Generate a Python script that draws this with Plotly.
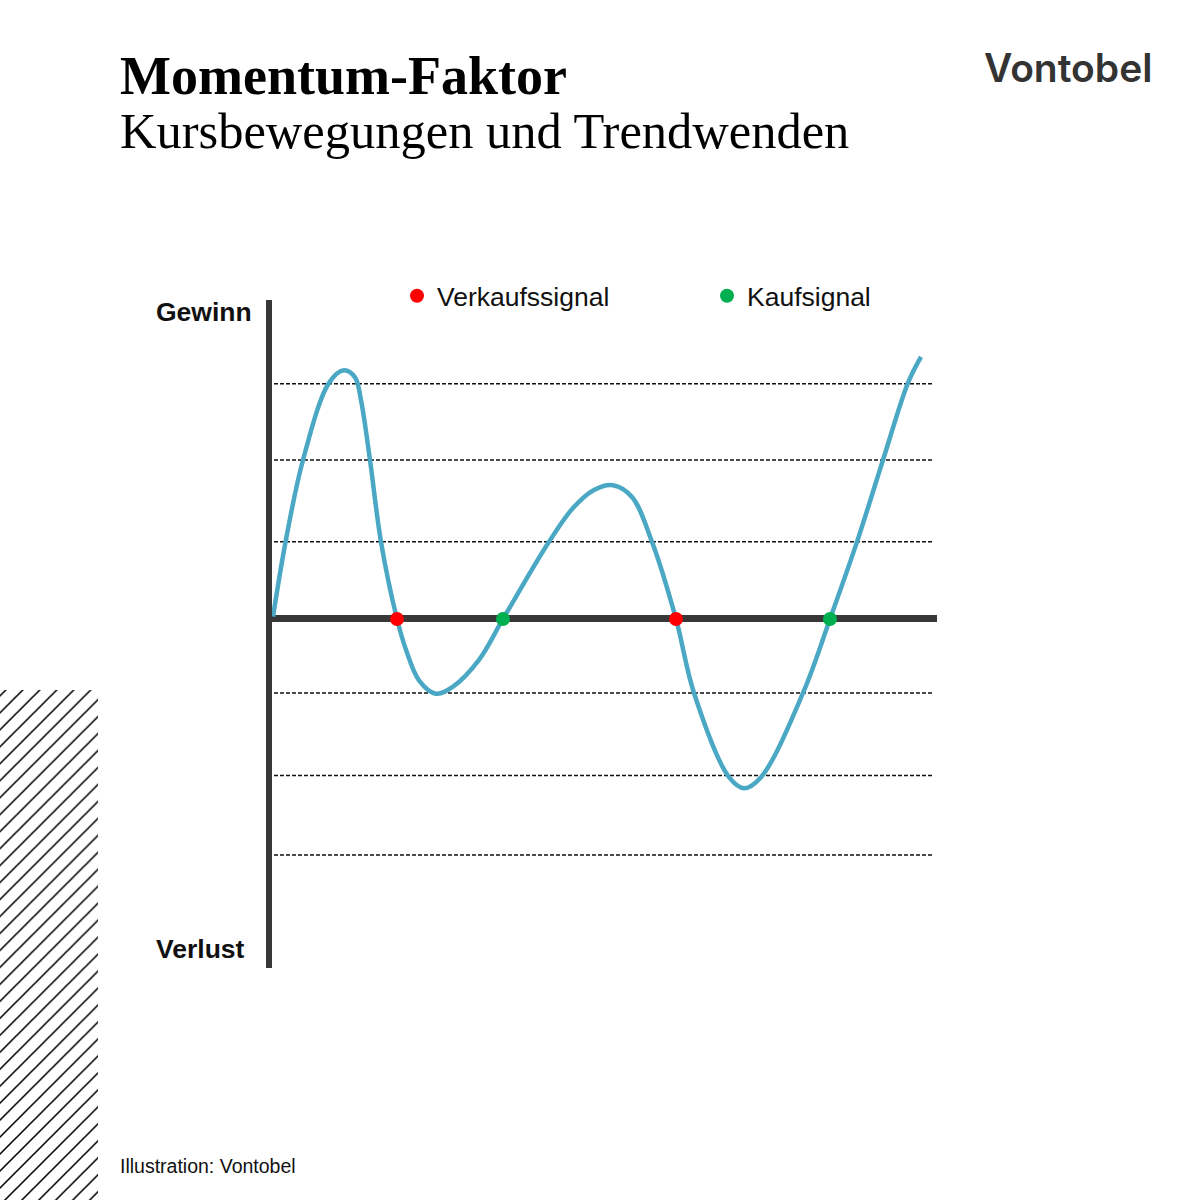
import plotly.graph_objects as go

# ---------------- data (illustrative price path) ----------------
time_steps = [1, 14, 31, 57, 72, 83, 89, 98, 109, 125, 134, 147, 164, 181, 207,
              231, 277, 301, 322, 341, 360, 380, 404, 422, 457, 472,
              489, 531, 558, 585, 611, 636, 649]
price_move = [0.03, 1.01, 2.02, 3.00, 3.16, 3.07, 2.78, 2.02, 0.98, 0.0, -0.39,
              -0.78, -0.95, -0.86, -0.52, 0.0, 0.98, 1.41, 1.64, 1.70, 1.55, 0.98,
              0.0, -0.94, -2.01, -2.15, -2.01, -0.94, 0.0, 0.98,
              2.02, 3.00, 3.33]

sell_x = [125, 404]
sell_y = [0, 0]
buy_x = [231, 558]
buy_y = [0, 0]

level_values = [2.99, 2.02, 0.98, -0.94, -1.99, -3.0]
level_x = [2, 660]

x_range = [0, 665]
y_range = [-4.435, 4.053]

# hatch block (page pixel coordinates on an overlay axis)
hatch_x = [0, 98, 98, 0, 0]
hatch_y = [690, 690, 1200, 1200, 690]

W = H = 1200
CURVE = "#4aa8c4"
AXIS = "#383838"

fig = go.Figure()

# dashed reference levels
for lv in level_values:
    fig.add_trace(go.Scatter(x=level_x, y=[lv, lv], mode="lines",
                             line=dict(color="#111111", width=1.5, dash="4px,2px"),
                             showlegend=False, hoverinfo="skip"))

# price curve
fig.add_trace(go.Scatter(x=time_steps, y=price_move, mode="lines",
                         line=dict(color=CURVE, width=4.5, shape="spline", smoothing=1.0),
                         showlegend=False, hoverinfo="skip"))

# signals
fig.add_trace(go.Scatter(x=sell_x, y=sell_y, mode="markers", name="Verkaufssignal",
                         marker=dict(color="#ff0000", size=14)))
fig.add_trace(go.Scatter(x=buy_x, y=buy_y, mode="markers", name="Kaufsignal",
                         marker=dict(color="#00b050", size=14)))

# hatch pattern
fig.add_trace(go.Scatter(x=hatch_x, y=hatch_y, xaxis="x2", yaxis="y2", mode="lines",
                         fill="toself", line=dict(width=0),
                         fillcolor="white",
                         fillpattern=dict(shape="/", size=12, solidity=0.13,
                                          fgcolor="#000000", fgopacity=1, bgcolor="white"),
                         showlegend=False, hoverinfo="skip"))

x0, x1 = 272 / W, 937 / W
y0, y1 = 1 - 968 / H, 1 - 300 / H

fig.update_layout(
    width=W, height=H,
    margin=dict(l=0, r=0, t=0, b=0),
    paper_bgcolor="white", plot_bgcolor="rgba(0,0,0,0)",
    xaxis=dict(domain=[x0, x1], range=x_range, showgrid=False, zeroline=False,
               showticklabels=False, ticks="", showline=False, fixedrange=True),
    yaxis=dict(domain=[y0, y1], range=y_range, showgrid=False, zeroline=True,
               zerolinecolor=AXIS, zerolinewidth=7, showticklabels=False, ticks="",
               showline=True, linecolor=AXIS, linewidth=6, fixedrange=True),
    xaxis2=dict(domain=[0, 1], range=[0, W], visible=False, anchor="y2", fixedrange=True),
    yaxis2=dict(domain=[0, 1], range=[H, 0], visible=False, anchor="x2", fixedrange=True),
    showlegend=True,
    legend=dict(orientation="h", x=397 / W, y=1 - 296 / H, xanchor="left", yanchor="middle",
                entrywidth=265, entrywidthmode="pixels", borderwidth=0,
                bgcolor="rgba(0,0,0,0)",
                font=dict(family="Liberation Sans, Arial", size=26.5, color="#111111")),
)

def ann(text, x, y, size, family, color="#111111", xanchor="left", bold=False, weight=None):
    f = dict(family=family, size=size, color=color)
    if weight is not None:
        f["weight"] = weight
    fig.add_annotation(text=("<b>%s</b>" % text) if bold else text,
                       x=x / W, y=1 - y / H, xref="paper", yref="paper",
                       xanchor=xanchor, yanchor="middle", showarrow=False, font=f)

ann("Momentum-Faktor", 118, 76, 54, "Liberation Serif", color="#000000", bold=True)
ann("Kursbewegungen und Trendwenden", 118, 131, 50.5, "Liberation Serif", color="#000000")
ann("Vontobel", 1154, 68, 39, "Inter", color="#333333", xanchor="right", weight=600)
ann("Gewinn", 154, 312, 26.5, "Liberation Sans, Arial", bold=True)
ann("Verlust", 154, 949, 26.5, "Liberation Sans, Arial", bold=True)
ann("Illustration: Vontobel", 118, 1166, 19.5, "Liberation Sans, Arial")

fig.write_html("out.html", config={"displayModeBar": False},
               post_script="document.body.style.margin='0';document.body.style.overflow='hidden';")
